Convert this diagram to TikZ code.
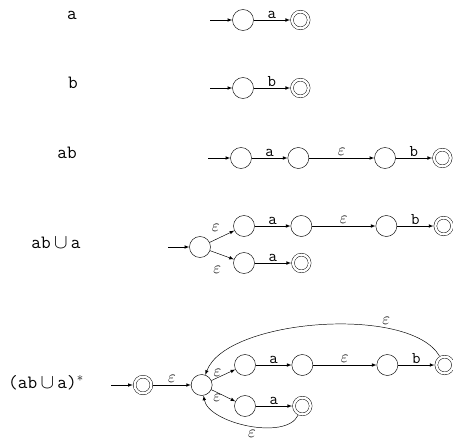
\documentclass[tikz,border=0pt]{standalone}
\usepackage{amsmath,amssymb}
\usetikzlibrary{arrows}

\tikzset{
  st/.style={circle,draw,minimum size=0.63cm,inner sep=0pt},
  acc/.style={circle,draw,double,double distance=2pt,minimum size=0.5cm,inner sep=0pt,outer sep=1.6pt},
  rx/.style={font=\ttfamily\fontsize{16}{18}\selectfont},
  lb/.style={font=\ttfamily\fontsize{14}{16}\selectfont,inner sep=1pt},
  ep/.style={font=\fontsize{14}{16}\selectfont,inner sep=2pt}
}

\begin{document}
\begin{tikzpicture}[x=0.03cm, y=-0.03cm, node distance=1.72cm, auto, >=latex]
	\useasboundingbox (0,0) rectangle (453,441);
	% a
	\node[rx] (lblA) at (72,15) {a};
	\coordinate (inA) at (210,20);
	\node[st] (a0) at (243,20) {};
	\node[acc] (a1) [right of=a0] {};
	\draw[->] (inA) -- (a0);
	\draw[->] (a0) to node[lb] {a} (a1);
	% b
	\node[rx] (lblB) at (73,83) {b};
	\coordinate (inB) at (210,88);
	\node[st] (b0) at (243,88) {};
	\node[acc] (b1) [right of=b0] {};
	\draw[->] (inB) -- (b0);
	\draw[->] (b0) to node[lb] {b} (b1);
	% ab
	\node[rx] (lblAB) at (67,153) {ab};
	\coordinate (inAB) at (208,158);
	\node[st] (c0) at (241,158) {};
	\node[st] (c1) [right of=c0] {};
	\node[st] (c2) [node distance=2.6cm,right of=c1] {};
	\node[acc] (c3) [right of=c2] {};
	\draw[->] (inAB) -- (c0);
	\draw[->] (c0) to node[lb] {a} (c1);
	\draw[->] (c1) to node[ep] {$\varepsilon$} (c2);
	\draw[->] (c2) to node[lb] {b} (c3);
	% ab u a
	\node[rx] (lblU) at (56,243) {ab$\,\cup\,$a};
	\coordinate (inU) at (168,247);
	\node[st] (u0) at (200,247) {};
	\node[st] (u1) at (244,226) {};
	\node[st] (u2) [right of=u1] {};
	\node[st] (u3) [node distance=2.55cm,right of=u2] {};
	\node[acc] (u4) [right of=u3] {};
	\node[st] (u5) at (244,263) {};
	\node[acc] (u6) [right of=u5] {};
	\draw[->] (inU) -- (u0);
	\draw[->] (u0) to node[ep,pos=0.25,above=5pt] {$\varepsilon$} (u1);
	\draw[->] (u0) to node[ep,pos=0.3,below=9pt] {$\varepsilon$} (u5);
	\draw[->] (u1) to node[lb] {a} (u2);
	\draw[->] (u2) to node[ep] {$\varepsilon$} (u3);
	\draw[->] (u3) to node[lb] {b} (u4);
	\draw[->] (u5) to node[lb] {a} (u6);
	% (ab u a)*
	\node[rx] (lblS) at (46,383) {(ab$\,\cup\,$a)$^{*}$};
	\coordinate (inS) at (111,385);
	\node[acc] (s0) at (143,385) {};
	\node[st] (s1) [node distance=1.76cm,right of=s0] {};
	\node[st] (s2) at (245,365) {};
	\node[st] (s3) [right of=s2] {};
	\node[st] (s4) [node distance=2.55cm,right of=s3] {};
	\node[acc] (s5) [right of=s4] {};
	\node[st] (s6) at (245,406) {};
	\node[acc] (s7) [right of=s6] {};
	\draw[->] (inS) -- (s0);
	\draw[->] (s0) to node[ep] {$\varepsilon$} (s1);
	\draw[->] (s1) to node[ep,pos=0.25,above,inner sep=1pt] {$\varepsilon$} (s2);
	\draw[->] (s1) to node[ep,pos=0.25,below,inner sep=1pt] {$\varepsilon$} (s6);
	\draw[->] (s2) to node[lb] {a} (s3);
	\draw[->] (s3) to node[ep] {$\varepsilon$} (s4);
	\draw[->] (s4) to node[lb] {b} (s5);
	\draw[->] (s6) to node[lb] {a} (s7);
	\draw[->] (s5) to[out=120,in=70,looseness=0.65] node[ep,swap,pos=0.3] {$\varepsilon$} (s1);
	\draw[->] (s7) to[out=-115,in=-80,looseness=0.75] node[ep,pos=0.42] {$\varepsilon$} (s1);
\end{tikzpicture}
\end{document}
